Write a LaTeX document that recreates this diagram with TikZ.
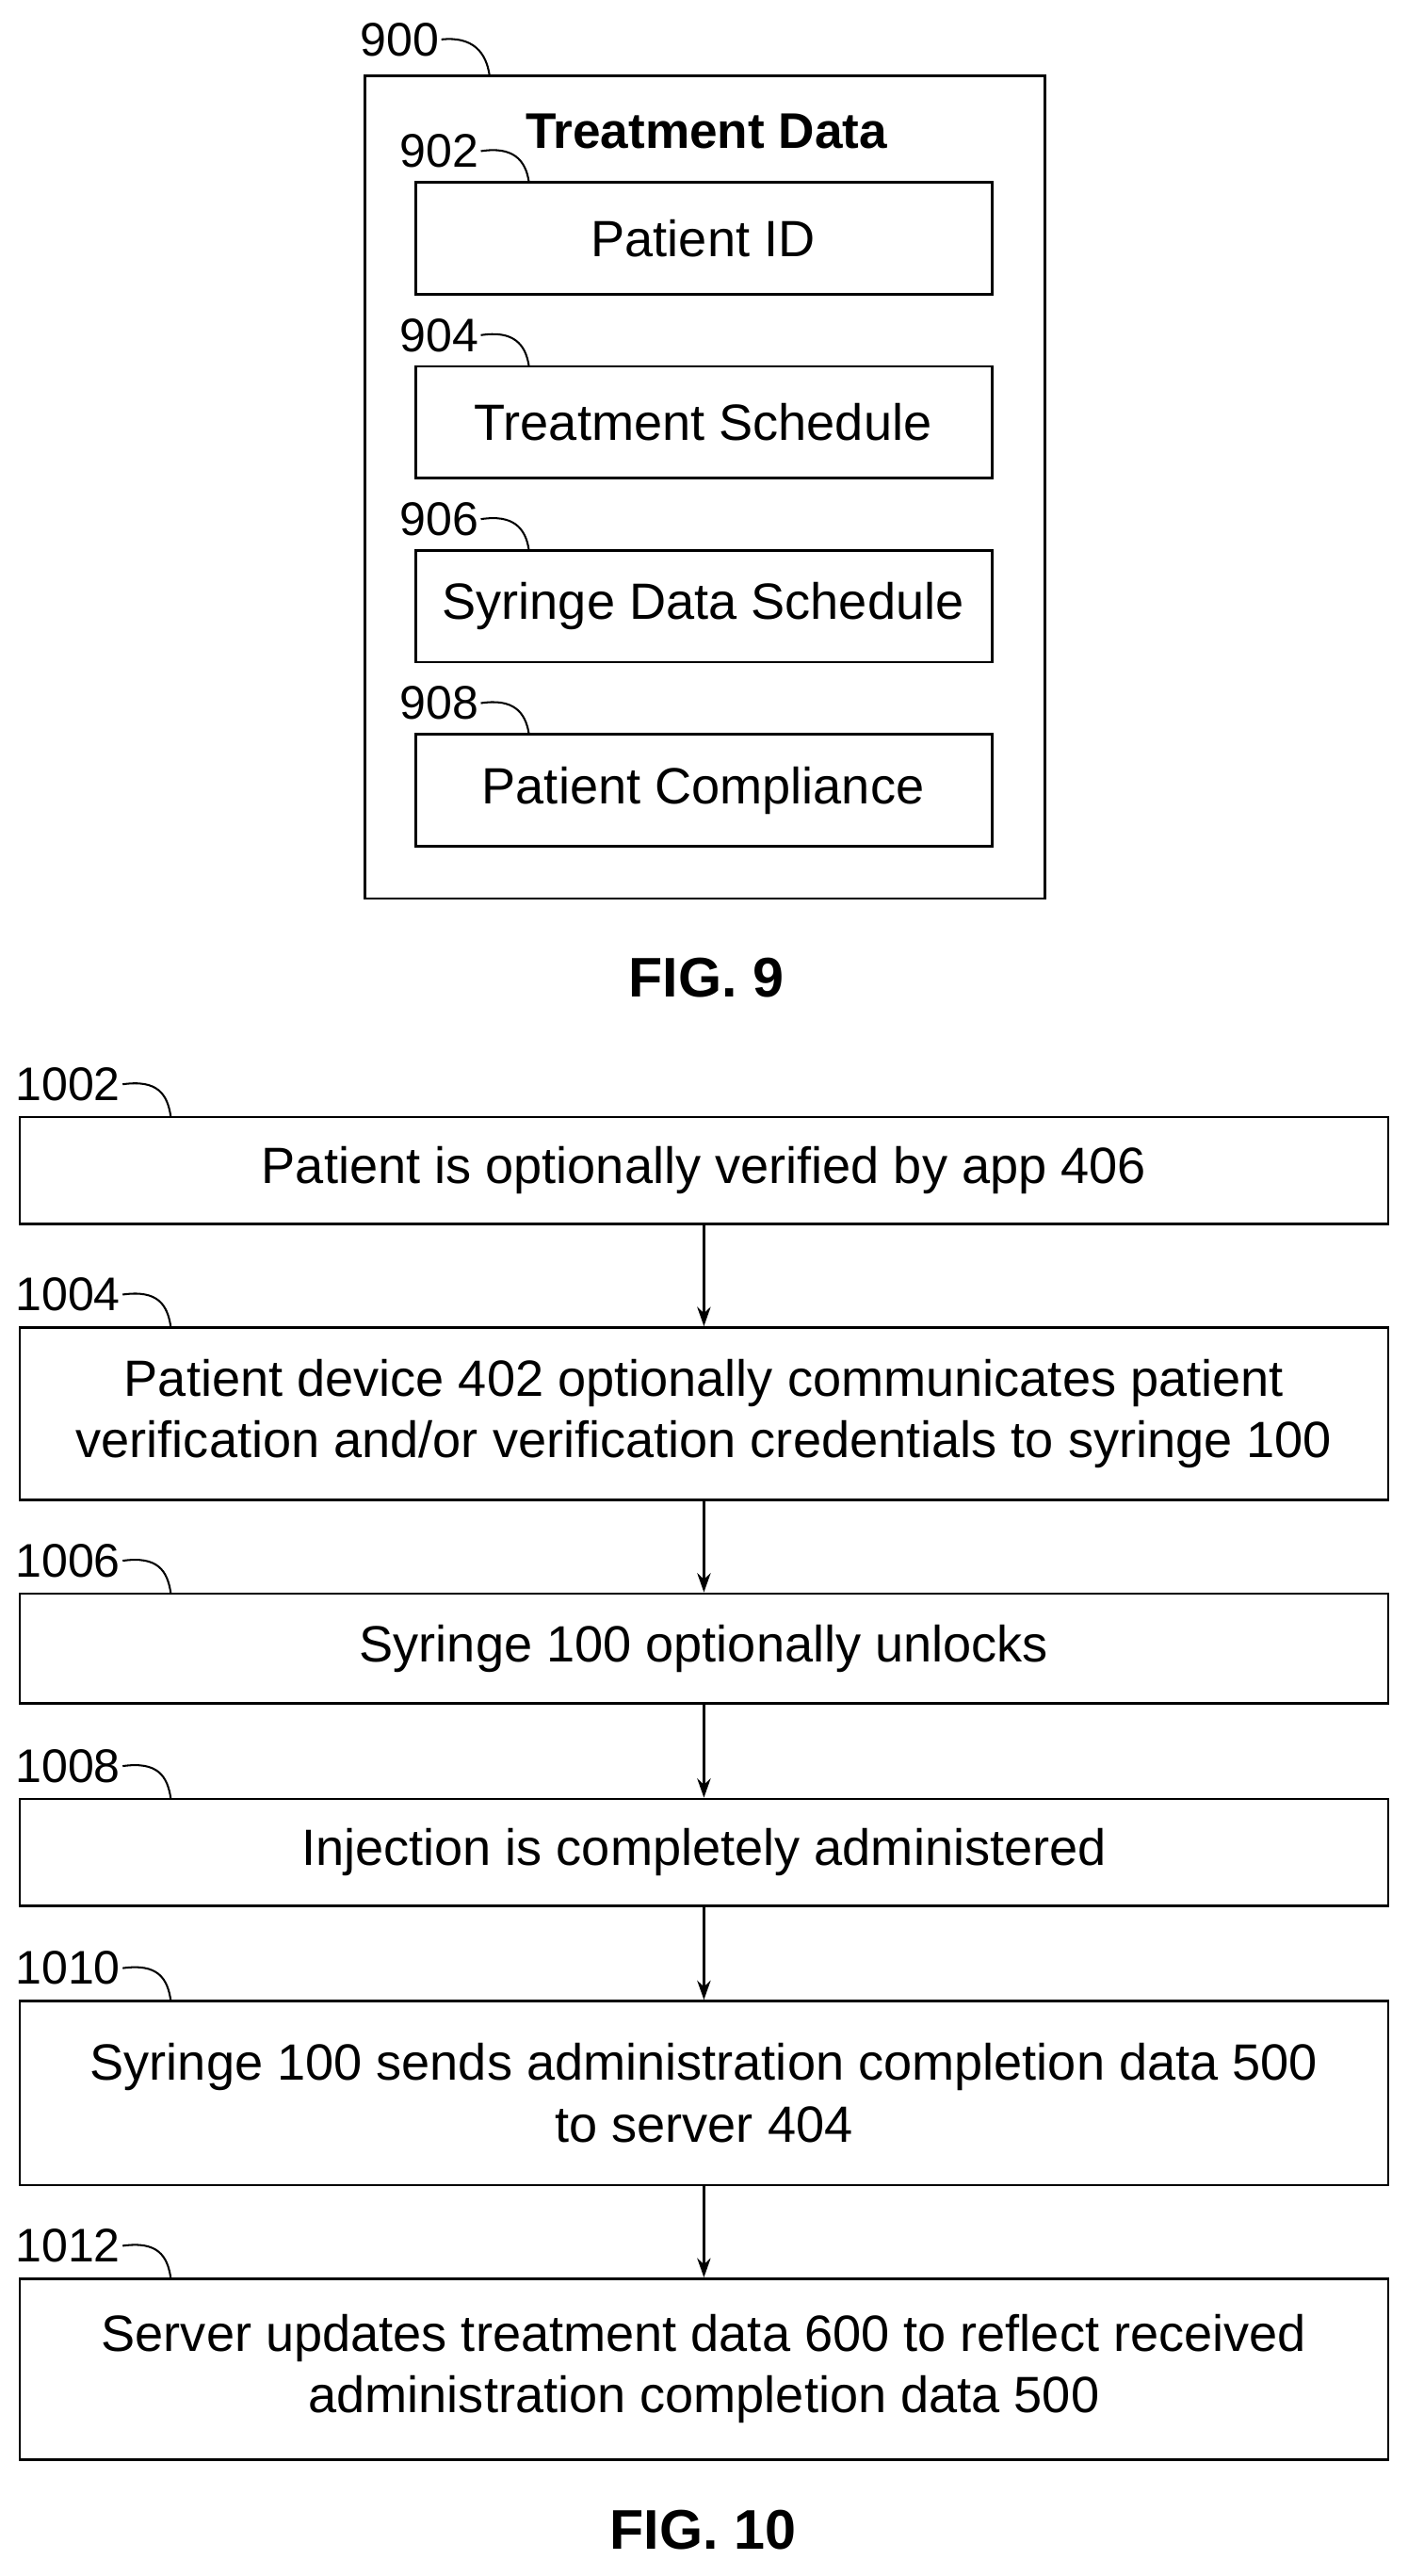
\documentclass[tikz,border=0pt]{standalone}
\usepackage{fontspec}
\setmainfont{Liberation Sans}
\usetikzlibrary{arrows.meta}
\begin{document}
\begin{tikzpicture}[x=0.03cm,y=-0.03cm,
  box/.style={draw,line width=1.3pt,inner sep=0},
  txt/.style={font=\fontsize{26.5}{32}\selectfont,align=center},
  lab/.style={font=\fontsize{24.5}{28}\selectfont,anchor=west,inner sep=1pt},
  hook/.style={line width=1pt},
  arr/.style={line width=1.3pt,-{Stealth[length=10pt,width=7pt]}}]
\useasboundingbox (0,0) rectangle (857,1568);
% FIG 9
\draw[box] (222,46) rectangle (636,547);
\node[lab] (l900) at (218,24) {900};
\coordinate (h900) at (298,46);
\draw[hook] (l900.east) .. controls (288,22) and (296,32) .. (h900);
\node[font=\bfseries\fontsize{26}{30}\selectfont] (title) at (430,80) {Treatment Data};
\foreach \n/\ya/\yb/\t/\lab in {a/111/179/Patient ID/902, b/223/291/Treatment Schedule/904, c/335/403/Syringe Data Schedule/906, d/447/515/Patient Compliance/908}{
  \draw[box] (253,\ya) rectangle (604,\yb);
  \node[txt] (t\n) at (428,{(\ya+\yb)/2}) {\t};
  \node[lab] (l\n) at (242,{\ya-19}) {\lab};
  \coordinate (h\n) at (322,\ya);
  \draw[hook] (l\n.east) .. controls (312,{\ya-22}) and (320,{\ya-14}) .. (h\n);
}
\node[font=\bfseries\fontsize{29}{34}\selectfont] (fig9) at (430,595) {FIG. 9};
% FIG 10
\foreach \n/\ya/\yb/\t/\lab in {
 s1/680/745/{Patient is optionally verified by app 406}/1002,
 s2/808/913/{Patient device 402 optionally communicates patient\\verification and/or verification credentials to syringe 100}/1004,
 s3/970/1037/{Syringe 100 optionally unlocks}/1006,
 s4/1095/1160/{Injection is completely administered}/1008,
 s5/1218/1330/{Syringe 100 sends administration completion data 500\\to server 404}/1010,
 s6/1387/1497/{Server updates treatment data 600 to reflect received\\administration completion data 500}/1012}{
  \node[box,minimum width=833*0.03cm,minimum height={(\yb-\ya)*0.03cm}] (\n) at (428.5,{(\ya+\yb)/2}) {};
  \node[txt] (t\n) at (\n.center) {\t};
  \node[lab] (l\n) at (8,{\ya-20}) {\lab};
  \coordinate (h\n) at (104,\ya);
  \draw[hook] (l\n.east) .. controls (96,{\ya-23}) and (102,{\ya-14}) .. (h\n);
}
\draw[arr] (s1) -- (s2);
\draw[arr] (s2) -- (s3);
\draw[arr] (s3) -- (s4);
\draw[arr] (s4) -- (s5);
\draw[arr] (s5) -- (s6);
\node[font=\bfseries\fontsize{29}{34}\selectfont] (fig10) at (428,1540) {FIG. 10};
\end{tikzpicture}
\end{document}
